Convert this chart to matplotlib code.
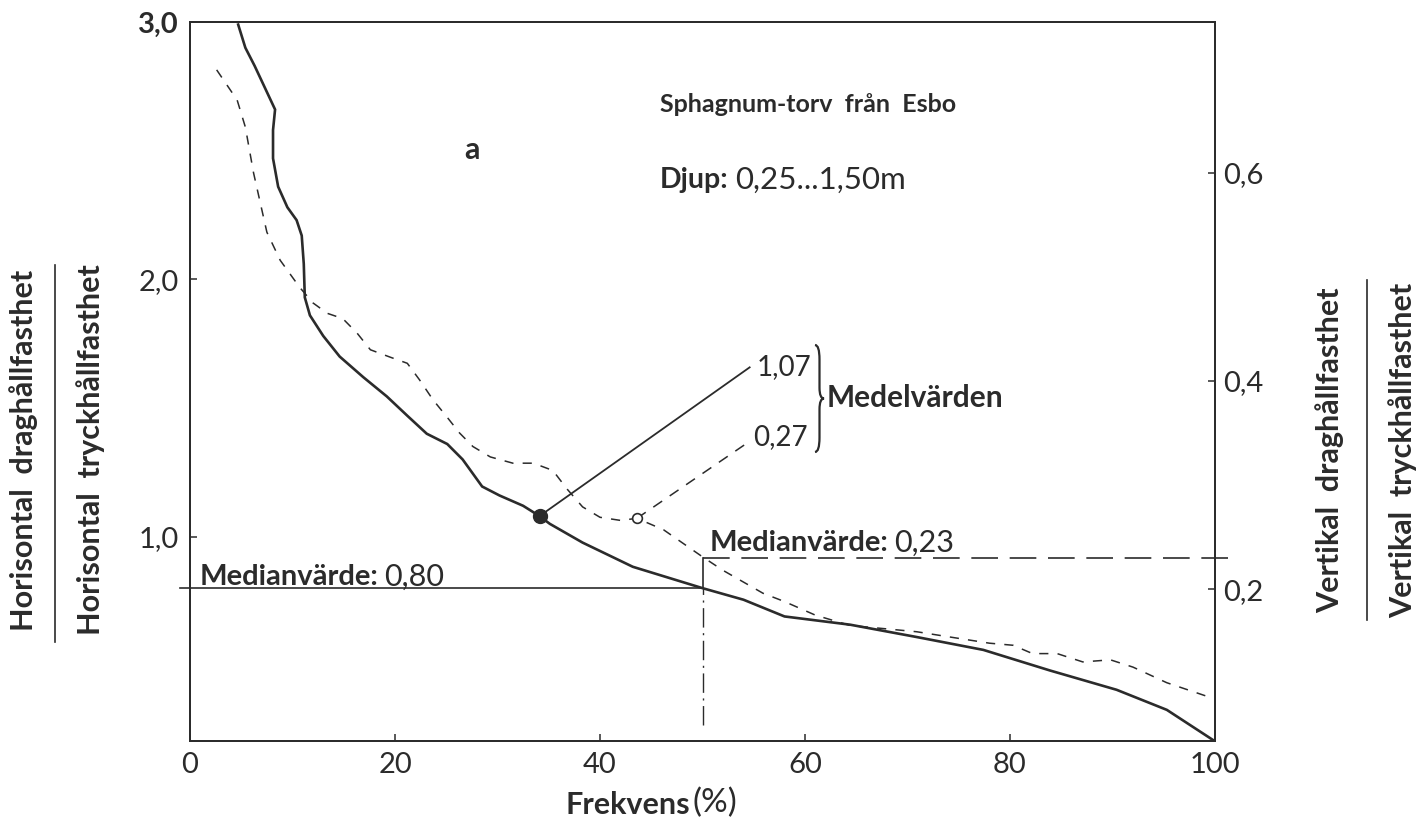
import matplotlib
matplotlib.use("Agg")
from matplotlib import pyplot as plt
from matplotlib.path import Path
from matplotlib.patches import PathPatch

plt.rcParams['font.family'] = ['Lato', 'DejaVu Sans']

# Solid curve: horisontal drag/tryck (left axis)
frek_h = [4.7, 5.4, 6.3, 8.3, 8.1, 8.1, 8.6, 9.5, 10.4, 10.9, 11.1, 11.2, 11.7, 13.0,
          14.6, 16.9, 19.2, 21.2, 23.1, 25.1, 26.6, 28.5, 30.2, 32.5, 34.1, 35.1,
          38.3, 43.2, 50.0, 54.0, 58.0, 64.4, 70.9, 77.4, 83.9, 90.4, 95.3, 99.8]
kvot_h = [2.99, 2.90, 2.83, 2.66, 2.58, 2.47, 2.36, 2.28, 2.23, 2.17, 2.06, 1.93, 1.86, 1.78,
          1.70, 1.62, 1.545, 1.47, 1.40, 1.36, 1.30, 1.195, 1.16, 1.12, 1.08, 1.05,
          0.977, 0.883, 0.80, 0.755, 0.69, 0.658, 0.61, 0.56, 0.48, 0.405, 0.327, 0.21]

# Dashed curve: vertikal drag/tryck (right axis)
frek_v = [2.6, 4.6, 5.4, 6.2, 7.5, 8.8, 10.7, 12.0, 13.4, 14.9, 16.3, 17.6, 19.5, 21.2,
          22.4, 23.7, 25.1, 26.3, 27.6, 29.3, 31.5, 33.5, 35.4, 36.8, 38.3, 40.0, 42.0,
          43.6, 46.2, 48.1, 50.0, 52.0, 55.9, 58.0, 61.0, 64.4, 67.7, 70.9, 74.1, 78.0,
          80.3, 82.2, 84.6, 87.1, 89.8, 92.0, 95.3, 99.8]
kvot_v = [0.699, 0.670, 0.644, 0.600, 0.543, 0.516, 0.490, 0.475, 0.465, 0.460, 0.446, 0.430,
          0.423, 0.417, 0.401, 0.382, 0.365, 0.350, 0.337, 0.327, 0.321, 0.321, 0.314, 0.296,
          0.279, 0.269, 0.266, 0.268, 0.257, 0.244, 0.231, 0.218, 0.196, 0.188, 0.175, 0.165,
          0.162, 0.159, 0.154, 0.148, 0.146, 0.138, 0.138, 0.130, 0.132, 0.125, 0.110, 0.095]

medel_h, medel_h_x = 1.08, 34.1
medel_v, medel_v_x = 0.268, 43.6
median_h = 0.80
median_v = 0.23
median_x = 50

x_ticks = [0, 20, 40, 60, 80, 100]
left_ticks = [1.0, 2.0, 3.0]
left_labels = ['1,0', '2,0', '3,0']
right_ticks = [0.2, 0.4, 0.6]
right_labels = ['0,2', '0,4', '0,6']

W, H = 1421, 836
ink = '#2b2b2b'

fig = plt.figure(figsize=(W / 100, H / 100), dpi=100)
ax = fig.add_axes([190 / W, 1 - 741 / H, 1025 / W, 719 / H])
ax2 = ax.twinx()

ax.set_xlim(0, 100)
ax.set_ylim(0.206, 3.0)
ax2.set_ylim(0.054, 0.745)

for a in (ax, ax2):
    for s in a.spines.values():
        s.set_color(ink)
        s.set_linewidth(1.3)
    a.tick_params(direction='in', length=5, width=1.1, colors=ink, labelsize=21, pad=8)

ax.set_xticks(x_ticks)
ax.set_xticklabels([str(t) for t in x_ticks])
ax.set_yticks(left_ticks)
ax.set_yticklabels(left_labels)
ax.get_yticklabels()[-1].set_fontweight('bold')
ax2.set_yticks(right_ticks)
ax2.set_yticklabels(right_labels)
ax2.tick_params(axis='y', direction='in', pad=6)

# curves
ax.plot(frek_h, kvot_h, color=ink, lw=1.9, solid_joinstyle='miter')
ax2.plot(frek_v, kvot_v, color=ink, lw=1.1, dashes=(6, 6))

# mean markers and leaders
ax.plot([medel_h_x, 54.6], [medel_h, 1.658], color=ink, lw=1.3)
ax.plot(medel_h_x, medel_h, 'o', color=ink, ms=10)
ax2.plot([medel_v_x, 54.3], [medel_v, 0.340], color=ink, lw=1.1, dashes=(7, 6))
ax2.plot(medel_v_x, medel_v, 'o', mfc='white', mec=ink, mew=1.2, ms=7)

# medians
y_top = ax.transData.inverted().transform(ax2.transData.transform((median_x, median_v)))[1]
ax.plot([-1, median_x], [median_h, median_h], color=ink, lw=1.2, clip_on=False)
ax.plot([median_x, median_x], [median_h, y_top], color=ink, lw=1.2)
ax.plot([median_x, median_x], [0.27, median_h], color=ink, lw=1.0, dashes=(14, 4, 1.5, 4))
ax2.plot([median_x, 101.7], [median_v, median_v], color=ink, lw=1.2, dashes=(16, 7), clip_on=False)

# brace
bx0, bx1 = (815 - 190) / 1025, (824 - 190) / 1025
bt, bb = (741 - 345) / 719, (741 - 452) / 719
bm = (bt + bb) / 2
bxm = (bx0 + bx1) / 2
verts = [(bx0, bt), (bxm, bt), (bxm, bt - 0.02), (bxm, bm + 0.015), (bxm, bm), (bx1, bm),
         (bxm, bm), (bxm, bm - 0.015), (bxm, bb + 0.02), (bxm, bb), (bx0, bb)]
codes = [Path.MOVETO, Path.CURVE3, Path.CURVE3, Path.LINETO, Path.CURVE3, Path.CURVE3,
         Path.CURVE3, Path.CURVE3, Path.LINETO, Path.CURVE3, Path.CURVE3]
ax.add_patch(PathPatch(Path(verts, codes), transform=ax.transAxes, fill=False,
                       ec=ink, lw=1.6, clip_on=False))


def ftext(x, y, s, **kw):
    kw.setdefault('color', ink)
    kw.setdefault('va', 'center')
    fig.text(x / W, 1 - y / H, s, **kw)


ftext(757, 367, '1,07', fontsize=20)
ftext(753, 437, '0,27', fontsize=20)
ftext(827, 398, 'Medelvärden', fontsize=21.5, fontweight='bold')
ftext(200, 577, 'Medianvärde:', fontsize=21, fontweight='bold')
ftext(384, 577, '0,80', fontsize=22)
ftext(710, 543, 'Medianvärde:', fontsize=21, fontweight='bold')
ftext(894, 543, '0,23', fontsize=22)
ftext(660, 105, 'Sphagnum-torv  från  Esbo', fontsize=18, fontweight='bold')
ftext(660, 180, 'Djup:', fontsize=20.5, fontweight='bold')
ftext(735, 180, '0,25...1,50m', fontsize=22.5)
ftext(464, 150, 'a', fontsize=22, fontweight='bold')
ftext(565, 805, 'Frekvens', fontsize=22, fontweight='bold')
ftext(693, 803, '(%)', fontsize=24)

# axis titles as ratios
ftext(24, 450, 'Horisontal  draghållfasthet', fontsize=22, fontweight='bold',
      rotation=90, ha='center')
ftext(91, 450, 'Horisontal  tryckhållfasthet', fontsize=22, fontweight='bold',
      rotation=90, ha='center')
fig.add_artist(plt.Line2D([55 / W, 55 / W], [1 - 265 / H, 1 - 642 / H], color=ink, lw=1.2))
ftext(1330, 450, 'Vertikal  draghållfasthet', fontsize=22, fontweight='bold',
      rotation=90, ha='center')
ftext(1403, 450, 'Vertikal  tryckhållfasthet', fontsize=22, fontweight='bold',
      rotation=90, ha='center')
fig.add_artist(plt.Line2D([1367 / W, 1367 / W], [1 - 280 / H, 1 - 620 / H], color=ink, lw=1.2))

fig.savefig('out.png', dpi=100, facecolor='white')
plt.close(fig)
